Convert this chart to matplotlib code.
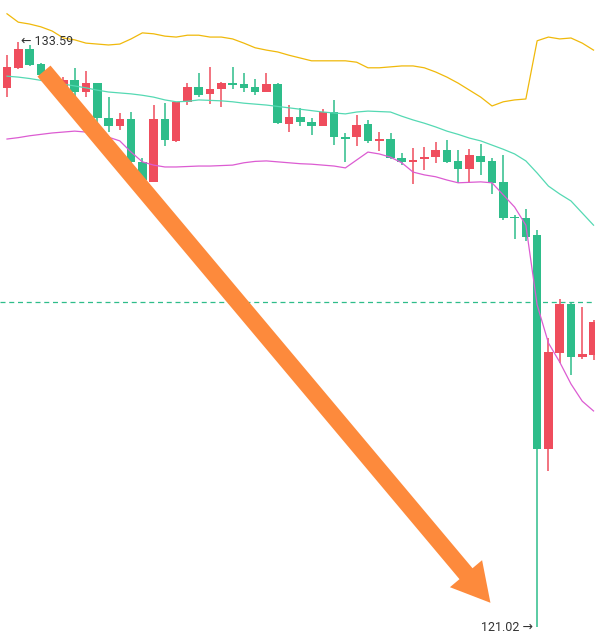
import numpy as np
import matplotlib
matplotlib.use("Agg")
import matplotlib.pyplot as plt
from matplotlib.patches import Polygon

# candle data (price units)
opens = [132.60, 133.03, 133.43, 133.11, 132.77, 132.60, 132.77, 132.52, 132.70, 131.95,
         131.78, 131.92, 131.01, 130.58, 131.92, 131.46, 132.30, 132.61, 132.47, 132.57,
         132.71, 132.68, 132.61, 132.50, 132.68, 131.82, 131.97, 131.87, 131.77, 132.07,
         131.54, 131.54, 131.82, 131.46, 131.49, 131.09, 131.01, 131.07, 131.11, 131.26,
         131.03, 130.86, 131.14, 131.03, 130.58, 129.83, 129.80, 129.44, 124.84, 126.91,
         127.96, 126.82, 126.86]
highs = [133.31, 133.59, 133.52, 133.13, 132.90, 132.83, 133.02, 132.96, 132.70, 132.41,
         132.05, 132.07, 131.10, 132.23, 132.27, 132.29, 132.71, 132.92, 133.04, 132.73,
         133.05, 132.92, 132.79, 132.91, 132.70, 132.23, 132.16, 131.95, 132.14, 132.34,
         131.62, 132.02, 131.90, 131.66, 131.62, 131.21, 131.30, 131.32, 131.44, 131.48,
         131.26, 131.28, 131.39, 131.09, 131.16, 129.87, 130.00, 129.55, 127.22, 128.06,
         128.01, 127.89, 127.61]
lows = [132.40, 133.01, 133.07, 132.81, 132.60, 132.55, 132.41, 132.41, 131.84, 131.66,
        131.69, 130.94, 130.58, 130.57, 131.35, 131.44, 132.23, 132.40, 132.25, 132.19,
        132.57, 132.52, 132.45, 132.50, 131.82, 131.66, 131.77, 131.59, 131.77, 131.37,
        131.01, 131.35, 131.41, 131.25, 131.07, 130.94, 130.53, 130.83, 130.99, 130.99,
        130.56, 130.56, 130.73, 130.32, 129.77, 129.35, 129.30, 121.02, 124.38, 126.68,
        126.43, 126.77, 126.75]
closes = [133.05, 133.43, 133.09, 132.88, 132.68, 132.77, 132.52, 132.71, 131.95, 131.77,
          131.92, 131.01, 130.62, 131.92, 131.48, 132.29, 132.61, 132.45, 132.57, 132.70,
          132.67, 132.59, 132.50, 132.68, 131.84, 131.98, 131.87, 131.78, 132.07, 131.54,
          131.50, 131.80, 131.46, 131.49, 131.09, 131.01, 131.05, 131.11, 131.26, 131.01,
          130.86, 131.16, 131.01, 130.56, 129.80, 129.80, 129.40, 124.84, 126.93, 127.96,
          126.82, 126.88, 127.56]

# bollinger bands
boll_up = [134.19, 134.01, 133.97, 133.91, 133.82, 133.67, 133.63, 133.56, 133.54, 133.52,
           133.54, 133.65, 133.78, 133.76, 133.71, 133.69, 133.73, 133.73, 133.69, 133.69,
           133.65, 133.56, 133.46, 133.41, 133.37, 133.30, 133.24, 133.18, 133.18, 133.18,
           133.18, 133.15, 133.03, 133.03, 133.05, 133.07, 133.07, 133.03, 132.94, 132.83,
           132.70, 132.55, 132.40, 132.21, 132.30, 132.34, 132.36, 133.61, 133.69, 133.65,
           133.67, 133.56, 133.41]
boll_mid = [132.85, 132.83, 132.80, 132.76, 132.72, 132.68, 132.64, 132.60, 132.55, 132.51,
            132.49, 132.47, 132.44, 132.40, 132.34, 132.30, 132.31, 132.34, 132.33, 132.32,
            132.30, 132.27, 132.25, 132.23, 132.20, 132.17, 132.14, 132.11, 132.08, 132.06,
            132.04, 132.08, 132.10, 132.09, 132.08, 131.99, 131.91, 131.84, 131.76, 131.67,
            131.60, 131.52, 131.46, 131.37, 131.28, 131.18, 131.03, 130.77, 130.49, 130.32,
            130.17, 129.91, 129.65]
boll_dn = [131.50, 131.53, 131.57, 131.60, 131.63, 131.65, 131.67, 131.65, 131.59, 131.54,
           131.46, 131.22, 131.01, 130.94, 130.90, 130.90, 130.91, 130.92, 130.92, 130.93,
           130.94, 130.99, 131.02, 131.03, 131.01, 130.99, 130.97, 130.96, 130.94, 130.92,
           130.88, 131.05, 131.22, 131.18, 131.11, 130.99, 130.79, 130.73, 130.69, 130.62,
           130.56, 130.57, 130.58, 130.56, 130.30, 130.04, 129.65, 127.94, 127.12, 126.71,
           126.24, 125.87, 125.66]

level_line = 128.00
arrow_start = (3.28, 132.96)   # (candle index, price)
arrow_end = (42.86, 121.54)

UP_COLOR = "#ef4d5d"
DOWN_COLOR = "#2ebd8a"

def main():
    o = np.array(opens)
    h = np.array(highs)
    l = np.array(lows)
    c = np.array(closes)
    x = np.arange(len(o))

    fig = plt.figure(figsize=(5.95, 6.44), dpi=100)
    ax = fig.add_axes([0, 0, 1, 1])
    ax.set_xlim(-0.62, 52.13)
    ax.set_ylim(120.655, 134.486)
    ax.axis("off")

    colors = [UP_COLOR if cc >= oo else DOWN_COLOR for oo, cc in zip(o, c)]
    bottoms = np.minimum(o, c)
    heights = np.maximum(np.abs(c - o), 0.035)
    ax.vlines(x, l, h, colors=colors, linewidth=1.1, zorder=2)
    ax.bar(x, heights, bottom=bottoms, width=0.76, color=colors, linewidth=0, zorder=3)

    ax.plot(x, boll_up, color="#f0b90b", linewidth=0.9, zorder=4)
    ax.plot(x, boll_mid, color="#55d9b3", linewidth=0.9, zorder=4)
    ax.plot(x, boll_dn, color="#dc5cd2", linewidth=0.9, zorder=4)

    ax.axhline(level_line, color="#2ebd8a", linewidth=0.9, dashes=(4, 3), zorder=1)

    # max / min labels
    i_hi = int(np.argmax(h))
    i_lo = int(np.argmin(l))
    ax.annotate("\u2190 %.2f" % h[i_hi], xy=(x[i_hi], h[i_hi]), xytext=(2, 0),
                textcoords="offset points", ha="left", va="center", fontsize=9,
                color="#333333", family=["Roboto", "DejaVu Sans"], zorder=6)
    ax.annotate("%.2f \u2192" % l[i_lo], xy=(x[i_lo], l[i_lo]), xytext=(-3, 0),
                textcoords="offset points", ha="right", va="center", fontsize=9,
                color="#333333", family=["Roboto", "DejaVu Sans"], zorder=6)

    # big orange arrow, drawn in pixel space so its width is not distorted
    p0 = ax.transData.transform(arrow_start)
    p1 = ax.transData.transform(arrow_end)
    d = p1 - p0
    length = np.hypot(*d)
    u = d / length
    n = np.array([-u[1], u[0]])
    shaft_w, head_w, head_l = 17, 42, 38
    base = p1 - u * head_l
    pts = [p0 + n * shaft_w / 2, base + n * shaft_w / 2, base + n * head_w / 2, p1,
           base - n * head_w / 2, base - n * shaft_w / 2, p0 - n * shaft_w / 2]
    ax.add_patch(Polygon(pts, closed=True, transform=None, facecolor="#fd8a3c",
                         edgecolor="none", zorder=5))

    fig.savefig("out.png", dpi=100, facecolor="white")
    plt.close(fig)

if __name__ == "__main__":
    main()
